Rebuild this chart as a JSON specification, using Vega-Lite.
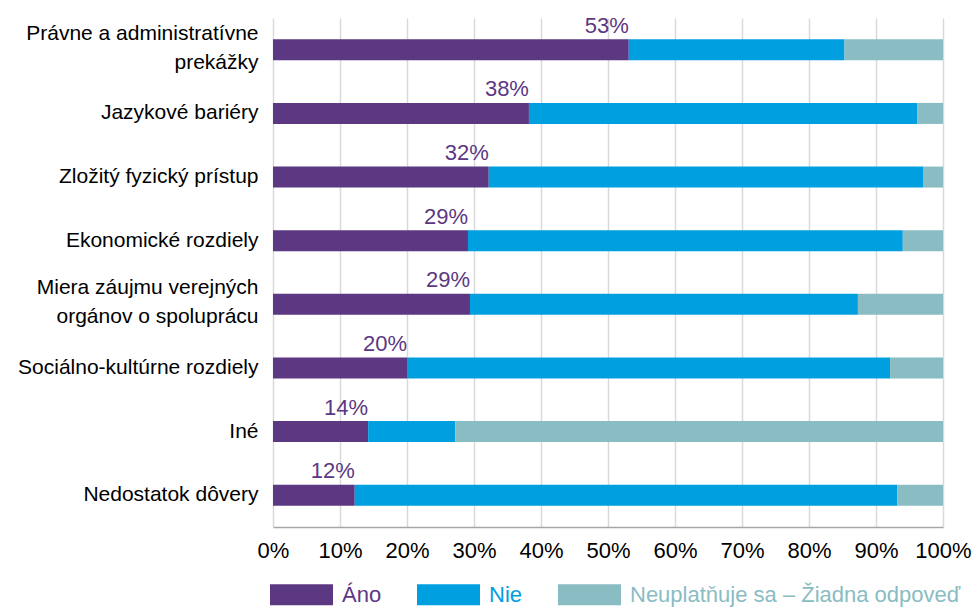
{
  "$schema": "https://vega.github.io/schema/vega-lite/v6.json",
  "autosize": "none",
  "width": 670,
  "height": 509,
  "padding": {"left": 273, "top": 18, "right": 36, "bottom": 81},
  "background": "white",
  "config": {
    "font": "Liberation Sans",
    "view": {"stroke": null}
  },
  "data": {
    "values": [
      {"cat": "Právne a administratívne|prekážky", "resp": "Áno", "o": 1, "v": 53.1},
      {"cat": "Právne a administratívne|prekážky", "resp": "Nie", "o": 2, "v": 32.2},
      {"cat": "Právne a administratívne|prekážky", "resp": "Neuplatňuje sa – Žiadna odpoveď", "o": 3, "v": 14.7},
      {"cat": "Jazykové bariéry", "resp": "Áno", "o": 1, "v": 38.2},
      {"cat": "Jazykové bariéry", "resp": "Nie", "o": 2, "v": 58.0},
      {"cat": "Jazykové bariéry", "resp": "Neuplatňuje sa – Žiadna odpoveď", "o": 3, "v": 3.8},
      {"cat": "Zložitý fyzický prístup", "resp": "Áno", "o": 1, "v": 32.2},
      {"cat": "Zložitý fyzický prístup", "resp": "Nie", "o": 2, "v": 64.9},
      {"cat": "Zložitý fyzický prístup", "resp": "Neuplatňuje sa – Žiadna odpoveď", "o": 3, "v": 2.9},
      {"cat": "Ekonomické rozdiely", "resp": "Áno", "o": 1, "v": 29.1},
      {"cat": "Ekonomické rozdiely", "resp": "Nie", "o": 2, "v": 64.9},
      {"cat": "Ekonomické rozdiely", "resp": "Neuplatňuje sa – Žiadna odpoveď", "o": 3, "v": 6.0},
      {"cat": "Miera záujmu verejných|orgánov o spoluprácu", "resp": "Áno", "o": 1, "v": 29.4},
      {"cat": "Miera záujmu verejných|orgánov o spoluprácu", "resp": "Nie", "o": 2, "v": 57.9},
      {"cat": "Miera záujmu verejných|orgánov o spoluprácu", "resp": "Neuplatňuje sa – Žiadna odpoveď", "o": 3, "v": 12.7},
      {"cat": "Sociálno-kultúrne rozdiely", "resp": "Áno", "o": 1, "v": 20.0},
      {"cat": "Sociálno-kultúrne rozdiely", "resp": "Nie", "o": 2, "v": 72.1},
      {"cat": "Sociálno-kultúrne rozdiely", "resp": "Neuplatňuje sa – Žiadna odpoveď", "o": 3, "v": 7.9},
      {"cat": "Iné", "resp": "Áno", "o": 1, "v": 14.2},
      {"cat": "Iné", "resp": "Nie", "o": 2, "v": 13.0},
      {"cat": "Iné", "resp": "Neuplatňuje sa – Žiadna odpoveď", "o": 3, "v": 72.8},
      {"cat": "Nedostatok dôvery", "resp": "Áno", "o": 1, "v": 12.2},
      {"cat": "Nedostatok dôvery", "resp": "Nie", "o": 2, "v": 81.0},
      {"cat": "Nedostatok dôvery", "resp": "Neuplatňuje sa – Žiadna odpoveď", "o": 3, "v": 6.8}
    ]
  },
  "encoding": {
    "y": {
      "field": "cat", "type": "nominal", "sort": null, "title": null,
      "scale": {"paddingInner": 0.67, "paddingOuter": 0.335},
      "axis": {
        "domain": false, "ticks": false, "grid": false,
        "labelExpr": "split(datum.label, '|')",
        "labelFontSize": 21, "labelColor": "#000000", "labelPadding": 15,
        "labelLineHeight": 29, "labelLimit": 300,
        "labelOffset": {"condition": {"test": "indexof(datum.value, '|') >= 0", "value": -16}, "value": 0}
      }
    }
  },
  "layer": [
    {
      "mark": {"type": "bar", "size": 21},
      "encoding": {
        "x": {
          "field": "v", "type": "quantitative", "stack": "zero",
          "scale": {"domain": [0, 100]}, "title": null,
          "axis": {
            "values": [0, 10, 20, 30, 40, 50, 60, 70, 80, 90, 100],
            "labelExpr": "datum.value + '%'",
            "grid": true, "gridColor": "#d9d9d9", "gridWidth": 1.5,
            "domain": true, "domainColor": "#a6a6a6", "domainWidth": 1.5,
            "ticks": false, "labelFontSize": 22, "labelColor": "#000000",
            "labelPadding": 13, "labelFlush": false
          }
        },
        "color": {
          "field": "resp", "type": "nominal", "title": null,
          "sort": ["Áno", "Nie", "Neuplatňuje sa – Žiadna odpoveď"],
          "scale": {
            "domain": ["Áno", "Nie", "Neuplatňuje sa – Žiadna odpoveď"],
            "range": ["#5c3782", "#009fe0", "#8abcc3"]
          },
          "legend": {
            "orient": "none", "legendX": -3, "legendY": 545,
            "direction": "horizontal",
            "symbolType": "M-1,-0.33L1,-0.33L1,0.33L-1,0.33Z",
            "symbolSize": 3969, "symbolStrokeWidth": 0, "symbolOpacity": 1,
            "labelFontSize": 22, "labelOffset": 9, "columnPadding": 35,
            "labelLimit": 400,
            "encode": {
              "labels": {"update": {"fill": {"scale": "color", "field": "value"}}}
            }
          }
        },
        "order": {"field": "o", "type": "quantitative"}
      }
    },
    {
      "transform": [{"filter": "datum.resp === 'Áno'"}],
      "mark": {"type": "text", "align": "right", "baseline": "alphabetic", "dy": -17, "fontSize": 22, "color": "#5c3782", "text": {"expr": "round(datum.v) + '%'"}},
      "encoding": {
        "x": {"field": "v", "type": "quantitative"}
      }
    }
  ]
}
